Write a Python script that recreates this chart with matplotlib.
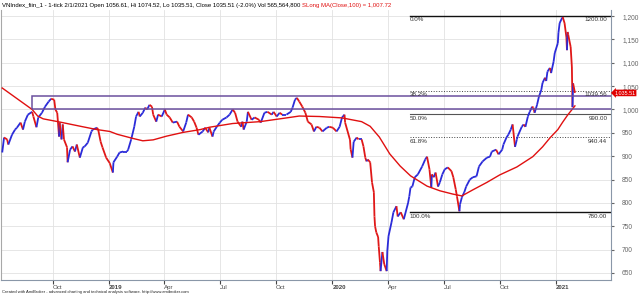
import matplotlib
matplotlib.use("Agg")
import matplotlib.pyplot as plt
import matplotlib.dates as mdates
from matplotlib.collections import LineCollection
from matplotlib.patches import Rectangle
import pandas as pd
import numpy as np

# ---- data --------------------------------------------------------------
price_dates = [
    "2018-07-10", "2018-07-13", "2018-07-18", "2018-07-20", "2018-07-26", "2018-07-31",
    "2018-08-03", "2018-08-09", "2018-08-13", "2018-08-16", "2018-08-21", "2018-08-28",
    "2018-08-30", "2018-09-04", "2018-09-07", "2018-09-13", "2018-09-18", "2018-09-24",
    "2018-09-28", "2018-10-03", "2018-10-05", "2018-10-08", "2018-10-11", "2018-10-12",
    "2018-10-15", "2018-10-17", "2018-10-19", "2018-10-24", "2018-10-25", "2018-10-29",
    "2018-11-02", "2018-11-06", "2018-11-09", "2018-11-14", "2018-11-19", "2018-11-22",
    "2018-11-27", "2018-12-03", "2018-12-05", "2018-12-12", "2018-12-14", "2018-12-18",
    "2018-12-21", "2018-12-27",
    "2019-01-02", "2019-01-07", "2019-01-08", "2019-01-14", "2019-01-18", "2019-01-24",
    "2019-01-30", "2019-02-01", "2019-02-06", "2019-02-11", "2019-02-14", "2019-02-18",
    "2019-02-20", "2019-02-25", "2019-03-01", "2019-03-04", "2019-03-08", "2019-03-12",
    "2019-03-14", "2019-03-19", "2019-03-22", "2019-03-28", "2019-04-02", "2019-04-05",
    "2019-04-10", "2019-04-15", "2019-04-22", "2019-04-26", "2019-05-02", "2019-05-07",
    "2019-05-10", "2019-05-16", "2019-05-20", "2019-05-24", "2019-05-27", "2019-06-03",
    "2019-06-07", "2019-06-12", "2019-06-14", "2019-06-19", "2019-06-21", "2019-06-26",
    "2019-07-01", "2019-07-05", "2019-07-12", "2019-07-17", "2019-07-22", "2019-07-26",
    "2019-07-30", "2019-08-05", "2019-08-07", "2019-08-09", "2019-08-14", "2019-08-16",
    "2019-08-22", "2019-08-27", "2019-09-03", "2019-09-06", "2019-09-12", "2019-09-17",
    "2019-09-24", "2019-09-27", "2019-10-02", "2019-10-07", "2019-10-11", "2019-10-18",
    "2019-10-25", "2019-10-28", "2019-11-01", "2019-11-04", "2019-11-08", "2019-11-13",
    "2019-11-18", "2019-11-22", "2019-11-28", "2019-12-02", "2019-12-06", "2019-12-11",
    "2019-12-16", "2019-12-23", "2019-12-27",
    "2020-01-02", "2020-01-08", "2020-01-13", "2020-01-17", "2020-01-21", "2020-01-22",
    "2020-01-30", "2020-01-31", "2020-02-03", "2020-02-05", "2020-02-10", "2020-02-13",
    "2020-02-18", "2020-02-21", "2020-02-24", "2020-02-26", "2020-02-28", "2020-03-03",
    "2020-03-06", "2020-03-09", "2020-03-10", "2020-03-11", "2020-03-13", "2020-03-16",
    "2020-03-17", "2020-03-19", "2020-03-20", "2020-03-23", "2020-03-26", "2020-03-30",
    "2020-03-31", "2020-04-02", "2020-04-07", "2020-04-10", "2020-04-15", "2020-04-17",
    "2020-04-22", "2020-04-27", "2020-05-04", "2020-05-06", "2020-05-08", "2020-05-11",
    "2020-05-15", "2020-05-20", "2020-05-27", "2020-06-01", "2020-06-04", "2020-06-08",
    "2020-06-11", "2020-06-12", "2020-06-15", "2020-06-18", "2020-06-22", "2020-06-25",
    "2020-06-29", "2020-07-03", "2020-07-08", "2020-07-14", "2020-07-17", "2020-07-21",
    "2020-07-23", "2020-07-27", "2020-07-28", "2020-07-31", "2020-08-04", "2020-08-07",
    "2020-08-13", "2020-08-18", "2020-08-24", "2020-08-28", "2020-09-03", "2020-09-10",
    "2020-09-15", "2020-09-18", "2020-09-25", "2020-09-29", "2020-10-05", "2020-10-07",
    "2020-10-12", "2020-10-15", "2020-10-19", "2020-10-22", "2020-10-26", "2020-10-29",
    "2020-10-30", "2020-11-06", "2020-11-09", "2020-11-12", "2020-11-16", "2020-11-19",
    "2020-11-23", "2020-11-25", "2020-11-27", "2020-12-01", "2020-12-04", "2020-12-08",
    "2020-12-10", "2020-12-14", "2020-12-16", "2020-12-18", "2020-12-22", "2020-12-24",
    "2020-12-28", "2020-12-30",
    "2021-01-04", "2021-01-05", "2021-01-07", "2021-01-11", "2021-01-12", "2021-01-15",
    "2021-01-18", "2021-01-19", "2021-01-20", "2021-01-21", "2021-01-25", "2021-01-27",
    "2021-01-28", "2021-01-29", "2021-02-01",
]
price_close = [
    908, 940, 936, 925, 946, 957,
    961, 972, 957, 974, 989, 995,
    985, 962, 983, 993, 1006, 1017,
    1023, 1021, 1000, 993, 942, 972,
    936, 968, 936, 919, 887, 914,
    921, 910, 925, 897, 919, 921,
    929, 953, 957, 961, 957, 931,
    919, 897,
    885, 865, 887, 899, 908, 910,
    910, 914, 936, 963, 985, 995,
    985, 993, 1004, 1000, 1010, 1006,
    989, 974, 989, 985, 1000, 989,
    983, 972, 974, 963, 953, 972,
    989, 983, 974, 961, 946, 953,
    961, 951, 961, 942, 953, 963,
    972, 978, 983, 989, 1000, 993,
    974, 963, 974, 957, 974, 995,
    978, 983, 978, 972, 993, 995,
    989, 995, 985, 993, 989, 989,
    995, 1004, 1021, 1025, 1017, 1006,
    993, 974, 968, 953, 963, 961,
    953, 961, 963,
    961, 953, 963, 983, 989, 972,
    935, 915, 897, 931, 940, 936,
    936, 921, 897, 889, 893, 887,
    844, 823, 771, 750, 737, 727,
    707, 673, 654, 695, 669, 654,
    697, 729, 759, 780, 793, 771,
    780, 765, 800, 814, 833, 835,
    855, 861, 878, 893, 899, 872,
    833, 861, 855, 865, 835, 844,
    861, 872, 876, 868, 855, 829,
    814, 782, 797, 812, 823, 835,
    850, 855, 857, 878, 889, 897,
    899, 910, 914, 904, 914, 925,
    940, 946, 957, 968, 920, 936,
    942, 963, 968, 963, 985, 995,
    1006, 1004, 993, 1010, 1027, 1042,
    1057, 1068, 1061, 1081, 1089, 1078,
    1102, 1121,
    1142, 1164, 1185, 1196, 1198, 1185,
    1155, 1127, 1166, 1160, 1134, 1091,
    1005, 1056, 1035.51,
]

ma_dates = [
    "2018-07-10", "2018-08-28", "2018-09-06", "2018-09-15", "2018-10-09", "2018-11-19",
    "2018-12-12", "2019-01-02", "2019-01-14", "2019-02-09", "2019-02-25", "2019-03-14",
    "2019-04-05", "2019-05-02", "2019-05-30", "2019-06-14", "2019-07-22", "2019-09-05",
    "2019-10-18", "2019-11-08", "2019-12-11", "2020-01-17", "2020-02-18", "2020-03-03",
    "2020-03-18", "2020-04-04", "2020-04-21", "2020-05-08", "2020-06-04", "2020-06-25",
    "2020-07-16", "2020-07-31", "2020-08-18", "2020-09-10", "2020-10-01", "2020-10-29",
    "2020-11-24", "2020-12-10", "2020-12-22", "2021-01-04", "2021-01-12", "2021-01-20",
    "2021-02-01",
]
ma_values = [
    1046, 1000, 986, 980, 974, 963,
    957, 953, 947, 938, 933, 935,
    943, 951, 957, 962, 970, 974,
    982, 986, 985, 982, 974, 964,
    941, 905, 879, 858, 836, 826,
    819, 815, 828, 844, 860, 877,
    899, 920, 939, 957, 973, 988,
    1007.72,
]

fib_pcts = ["0.0%", "38.2%", "50.0%", "61.8%", "100.0%"]
fib_levels = [1200.00, 1039.56, 990.00, 940.44, 780.00]
box_low, box_high = 1002, 1029

y_ticks = list(range(650, 1201, 50))
x_ticks = ["2018-10-01", "2019-01-01", "2019-04-01", "2019-07-01", "2019-10-01",
           "2020-01-01", "2020-04-01", "2020-07-01", "2020-10-01", "2021-01-01"]
x_labels = ["Oct", "2019", "Apr", "Jul", "Oct", "2020", "Apr", "Jul", "Oct", "2021"]

header = ("VNIndex_fiin_1 - 1-tick 2/1/2021 Open 1056.61, Hi 1074.52, Lo 1035.51, "
          "Close 1035.51 (-2.0%) Vol 565,564,800 ")
header_ma = "SLong MA(Close,100) = 1,007.72"
footer = ("Created with AmiBroker - advanced charting and technical analysis software. "
          "http://www.amibroker.com")

# ---- figure ------------------------------------------------------------
plt.rcParams["font.family"] = ["Liberation Sans", "DejaVu Sans"]
W, H = 640, 294
fig = plt.figure(figsize=(W / 100, H / 100), dpi=100)
ax = fig.add_axes([1 / W, 14 / H, 610 / W, 270 / H])

xd = mdates.date2num(pd.to_datetime(price_dates))
yc = np.array(price_close, dtype=float)
segs = [[(xd[i], yc[i]), (xd[i + 1], yc[i + 1])] for i in range(len(xd) - 1)]
cols = ["#2b2bd9" if yc[i + 1] >= yc[i] else "#e01818" for i in range(len(xd) - 1)]
ax.add_collection(LineCollection(segs, colors=cols, linewidths=1.3, zorder=3))

ax.plot(pd.to_datetime(ma_dates), ma_values, color="#e01010", lw=1.0, zorder=4)

xmin = mdates.date2num(pd.Timestamp("2018-07-08"))
xmax = mdates.date2num(pd.Timestamp("2021-04-01"))
ax.set_xlim(xmin, xmax)
ax.set_ylim(635, 1213)

# purple box
bx0 = mdates.date2num(pd.Timestamp("2018-08-28"))
ax.add_patch(Rectangle((bx0, box_low), xmax + 50 - bx0, box_high - box_low,
                       fill=False, ec="#6b4f9e", lw=1.1, zorder=5))

# fibonacci retracement
fx0 = mdates.date2num(pd.Timestamp("2020-05-07"))
fx1 = mdates.date2num(pd.Timestamp("2021-03-26"))
styles = {"0.0%": ("-", "#111111", 1.0), "38.2%": (":", "#444444", 0.7),
          "50.0%": ("-", "#555555", 0.8), "61.8%": (":", "#444444", 0.7),
          "100.0%": ("-", "#111111", 1.0)}
for p, lv in zip(fib_pcts, fib_levels):
    ls, c, lw = styles[p]
    ax.plot([fx0, xmax], [lv, lv], ls=ls, color=c, lw=lw, zorder=2)
    ax.text(fx0, lv - 3, p, fontsize=4.5, color="#333333", va="top", ha="left", zorder=6)
    ax.text(fx1, lv - 3, f"{lv:.2f}", fontsize=4.5, color="#333333", va="top",
            ha="right", zorder=6)

# grid + axes
ax.set_yticks(y_ticks)
ax.set_yticklabels([f"{v:,}" for v in y_ticks])
ax.yaxis.tick_right()
ax.tick_params(axis="y", labelsize=4.8, colors="#666666", length=2, pad=6)
xt = mdates.date2num(pd.to_datetime(x_ticks))
ax.set_xticks(xt)
ax.set_xticklabels(x_labels)
ax.tick_params(axis="x", labelsize=4.4, colors="#444444", length=3, pad=0.5)
for lab in ax.get_xticklabels():
    lab.set_ha("left")
    if lab.get_text().isdigit():
        lab.set_fontweight("bold")
ax.grid(True, color="#e2e2e2", lw=0.6, zorder=0)
ax.set_axisbelow(True)
ax.spines["top"].set_visible(False)
ax.spines["left"].set_color("#a8a8a8")
ax.spines["right"].set_color("#8a97a8")
ax.spines["bottom"].set_color("#8a97a8")

# last close marker
ax.annotate("1,035.51", xy=(1.0, 1035.51), xycoords=("axes fraction", "data"),
            xytext=(2.5, 0), textcoords="offset points", fontsize=3.9, color="white",
            va="center", ha="left", annotation_clip=False,
            bbox=dict(boxstyle="larrow,pad=0.15", fc="#e00000", ec="none"))

# header / footer
t1 = fig.text(2 / W, 1 - 5 / H, header, fontsize=4.3, va="center", ha="left")
fig.canvas.draw()
bb = t1.get_window_extent()
fig.text(bb.x1 / W, 1 - 5 / H, header_ma, fontsize=4.3, va="center", ha="left",
         color="#e01010")
fig.text(2 / W, 2.5 / H, footer, fontsize=3.0, va="center", ha="left", color="#222222")

fig.savefig("out.png", dpi=100)
